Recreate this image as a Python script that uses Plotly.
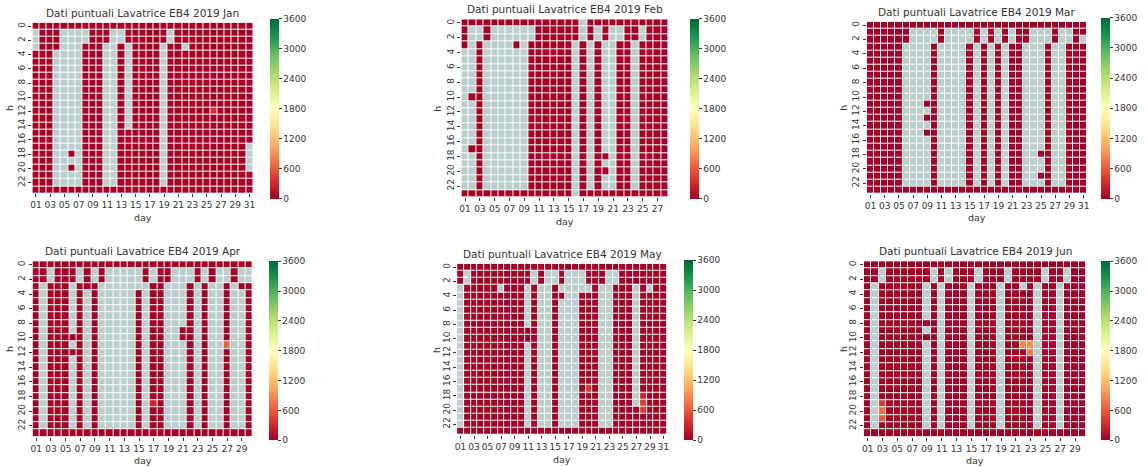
import numpy as np
import plotly.graph_objects as go

W, H = 1146, 467

MONTHS = ["Jan", "Feb", "Mar", "Apr", "May", "Jun"]
DAYS_IN_MONTH = [31, 28, 31, 30, 31, 30]
HOURS = list(range(24))
COLORBAR_TICKS = [0, 600, 1200, 1800, 2400, 3000, 3600]

# One string per hour (0..23), one character per day: 'r' = 0, '.' = missing
JAN_ROWS = (
    ["r" * 31]
    + [".rrr....rrr..rrrrrr.rrrrrrrrrrr"] * 2
    + [".rrr...rrr..r.rrrr.rr.rrrrrrrrr"]
    + ["rrr....rrr..r.rrrr.rrrrrrrrrrrr"] * 11
    + ["rrr....rrr..rrrrrr.rrrrrrrrrrrr"] * 2
    + ["rrr....rrr..rrrrrr.rrrrrrrrrrr."]
    + ["rrr..r.rrr..rrrrrr.rrrrrrrrrrr."]
    + ["rrr....rrr..rrrrrr.rrrrrrrrrrr."]
    + ["rrr..r.rrr..rrrrrr.rrrrrrrrrrr."]
    + ["rrr....rrr..rrrrrr.rrrrrrrrrrrr"] * 2
    + ["r" * 31]
)
FEB_ROWS = (
    ["rrrrrrrrrrrrrrrr.rrrrrrrrrrr"]
    + ["r..r......rrrrrr.r.r..rr.rrr"] * 2
    + ["r.r....r.rrrrrr.r.r..rr.rrrr"]
    + ["..r......rrrrrr.r.r..rr.rrrr"] * 6
    + [".rr......rrrrrr.r.r..rr.rrrr"]
    + ["..r......rrrrrr.r.r..rr.rrrr"] * 6
    + [".rr......rrrrrr.r.r..rr.rrrr"]
    + ["..r......rrrrrr.r.rr.rr.rrrr"]
    + ["..r......rrrrrr.r.r..rr.rrrr"]
    + ["..r......rrrrrr.r.rr.rr.rrrr"]
    + ["..r......rrrrrr.r.r..rr.rrrr"] * 2
    + ["rrrrrrrrrrrrrrr.rrrrrrrrrrrr"]
)
MAR_ROWS = (
    ["r" * 31]
    + ["rrrrrr....r....r.r.r.rr...r..rr"]
    + ["rrrrrr....r....r.r.r.rr...r..r."]
    + ["rrrrr....r....r.r.r.rr...r..rrr"] * 8
    + ["rrrrr...rr....r.r.r.rr...r..rrr"]
    + ["rrrrr....r....r.r.r.rr...r..rrr"]
    + ["rrrrr...rr....r.r.r.rr...r..rrr"]
    + ["rrrrr....r....r.r.r.rr...r..rrr"]
    + ["rrrrr...rr....r.r.r.rr...r..rrr"]
    + ["rrrrr....r....r.r.r.rr...r..rrr"] * 2
    + ["rrrrr....r....r.r.r.rr..rr..rrr"]
    + ["rrrrr....r....r.r.r.rr...r..rrr"] * 2
    + ["rrrrr....r....r.r.r.rr..rr..rrr"]
    + ["rrrrr....r....r.r.r.rr...r..rrr"]
    + ["r" * 31]
)
APR_ROWS = (
    ["r" * 30]
    + ["rr.rrr.r.r.....r.rr...r.r..r.."] * 2
    + ["r.rrr.rrr.......rr...r.r..r.rr"]
    + ["r.rrr.r.r.....r.rr...r.r..r..r"] * 5
    + ["r.rrr.r.r.....r.rr..rr.r..r..r"]
    + ["r.rrrrr.r.....r.rr..rr.r..r..r"]
    + ["r.rrr.r.r.....r.rr...r.r..r..r"]
    + ["r.rrrrr.r.....r.rr...r.r..r..r"]
    + ["r.rrr.r.r.....r.rr...r.r..r..r"] * 10
    + ["r" * 30]
)
MAY_ROWS = (
    ["r" * 31]
    + ["r.rrrrrrrrr.r..r...rrr..rrrrrrr"] * 2
    + [".rrrrr.rrr.r..r.....r..rrr.r.rr"]
    + [".rrrrrrrrr.r..rr..rrr..rrr.rrrr"]
    + [".rrrrrrrrr.r..r...rrr..rrr.rrrr"] * 4
    + [".rrrrrrrrrrr..r...rrr..rrr.rrrr"] * 2
    + [".rrrrrrrrr.r..r...rrr..rrr.rrrr"] * 9
    + [".rrrrrrrrr.r..r...rrr..rrrrrrrr"] * 3
    + ["r" * 31]
)
JUN_ROWS = (
    ["r" * 30]
    + ["rr.rrrrrr.r.rrr.rrr.rrrr.rr.rr"] * 2
    + ["r.rrrrrr.r.rrr.rrr.rr.r.rr.rrr"]
    + ["r.rrrrrr.r.rrr.rrr.rrrr.rr.rrr"] * 4
    + ["r.rrrrrrrr.rrr.rrr.rrrr.rr.rrr"]
    + ["r.rrrrrr.r.rrr.rrr.rrrr.rr.rrr"]
    + ["r.rrrrrrrr.rrr.rrr.rrrr.rr.rrr"]
    + ["r.rrrrrr.r.rrr.rrr.rrrr.rr.rrr"] * 12
    + ["r" * 30]
)
# (month, day, hour, value) for the few non-zero readings
EXTRA_VALUES = [
    ("Jan", 26, 12, 350),
    ("Apr", 27, 11, 650),
    ("Apr", 17, 19, 300),
    ("May", 20, 17, 400),
    ("May", 28, 18, 300),
    ("May", 28, 19, 450),
    ("May", 28, 20, 400),
    ("Jun", 3, 19, 450),
    ("Jun", 3, 20, 700),
    ("Jun", 3, 21, 600),
    ("Jun", 22, 11, 850),
    ("Jun", 23, 11, 900),
    ("Jun", 23, 12, 800),
]
MONTH_ROWS = [JAN_ROWS, FEB_ROWS, MAR_ROWS, APR_ROWS, MAY_ROWS, JUN_ROWS]

# layout in pixels: grid box (x0, x1, y0, y1), colorbar (x, y0, y1), label x for "h"
GRID_PX = [
    (30.5, 252, 21.7, 192.7),
    (461, 669, 18.3, 196.7),
    (868, 1089, 20.7, 193.3),
    (30.7, 251.7, 260.7, 436.7),
    (456.7, 667.3, 263.3, 435),
    (865, 1088, 260.7, 436.7),
]
CBAR_PX = [
    (269, 18, 198),
    (690, 18, 198),
    (1103, 17, 198),
    (268, 261, 440),
    (684, 260, 440),
    (1103, 261, 440),
]
HLABEL_X = [8, 437, 845, 8, 436, 845]

GREY = "rgb(186,206,206)"
TXT = "#333333"
FONT = "DejaVu Sans"

fig = go.Figure()
layout = {}
annotations = []


def fx(px):
    return px / W


def fy(py):
    return 1 - py / H


for i, (name, rows, ndays) in enumerate(zip(MONTHS, MONTH_ROWS, DAYS_IN_MONTH)):
    z = np.array([[0.0 if ch == "r" else np.nan for ch in row] for row in rows])
    for m, d, h, v in EXTRA_VALUES:
        if m == name:
            z[h, d - 1] = v
    days = list(range(1, ndays + 1))
    zval = [[None if np.isnan(v) else float(v) for v in r] for r in z]
    zmask = [[1 if np.isnan(v) else None for v in r] for r in z]
    sfx = "" if i == 0 else str(i + 1)
    fig.add_trace(go.Heatmap(
        z=zmask, x=days, y=HOURS, colorscale=[[0, GREY], [1, GREY]],
        zmin=0, zmax=1, showscale=False, xgap=1, ygap=1,
        xaxis="x" + sfx, yaxis="y" + sfx, hoverinfo="skip"))
    fig.add_trace(go.Heatmap(
        z=zval, x=days, y=HOURS, coloraxis="coloraxis" + sfx,
        xgap=1, ygap=1, xaxis="x" + sfx, yaxis="y" + sfx))

    x0, x1, y0, y1 = GRID_PX[i]
    odd = [d for d in days if d % 2 == 1]
    layout["xaxis" + sfx] = dict(
        domain=[fx(x0), fx(x1)], anchor="y" + sfx, range=[0.5, ndays + 0.5],
        tickvals=odd, ticktext=["%02d" % d for d in odd], tickangle=0,
        showgrid=False, zeroline=False, showline=False,
        ticks="outside", ticklen=3, tickwidth=1, tickcolor=TXT,
        tickfont=dict(size=9, color=TXT, family=FONT))
    layout["yaxis" + sfx] = dict(
        domain=[fy(y1), fy(y0)], anchor="x" + sfx, range=[23.5, -0.5],
        tickvals=list(range(0, 24, 2)), tickangle=-90,
        showgrid=False, zeroline=False, showline=False,
        ticks="outside", ticklen=3, tickwidth=1, tickcolor=TXT,
        tickfont=dict(size=9, color=TXT, family=FONT))
    cx, cy0, cy1 = CBAR_PX[i]
    layout["coloraxis" + sfx] = dict(
        colorscale="RdYlGn", cmin=0, cmax=3600,
        colorbar=dict(
            x=fx(cx), xanchor="left", y=fy((cy0 + cy1) / 2), yanchor="middle",
            len=(cy1 - cy0) / H, lenmode="fraction", thickness=9,
            thicknessmode="pixels", xpad=0, ypad=0, outlinewidth=0,
            tickvals=COLORBAR_TICKS, ticks="outside", ticklen=3,
            tickcolor=TXT, tickfont=dict(size=9, color=TXT, family=FONT)))

    # title
    annotations.append(dict(
        text="Dati puntuali Lavatrice EB4 2019 " + name,
        x=fx((x0 + x1) / 2), y=fy(y0 - 10), xref="paper", yref="paper",
        xanchor="center", yanchor="middle", showarrow=False,
        font=dict(size=10.5, color=TXT, family=FONT)))
    # x label
    annotations.append(dict(
        text="day", x=fx((x0 + x1) / 2), y=fy(y1 + 24), xref="paper", yref="paper",
        xanchor="center", yanchor="middle", showarrow=False,
        font=dict(size=9.5, color=TXT, family=FONT)))
    # y label
    annotations.append(dict(
        text="h", x=fx(HLABEL_X[i]), y=fy((y0 + y1) / 2), xref="paper", yref="paper",
        xanchor="center", yanchor="middle", showarrow=False, textangle=-90,
        font=dict(size=9.5, color=TXT, family=FONT)))

fig.update_layout(
    width=W, height=H, margin=dict(l=0, r=0, t=0, b=0),
    paper_bgcolor="white", plot_bgcolor="white",
    font=dict(family=FONT, color=TXT), showlegend=False,
    annotations=annotations, **layout)

fig.write_html("out.html")
